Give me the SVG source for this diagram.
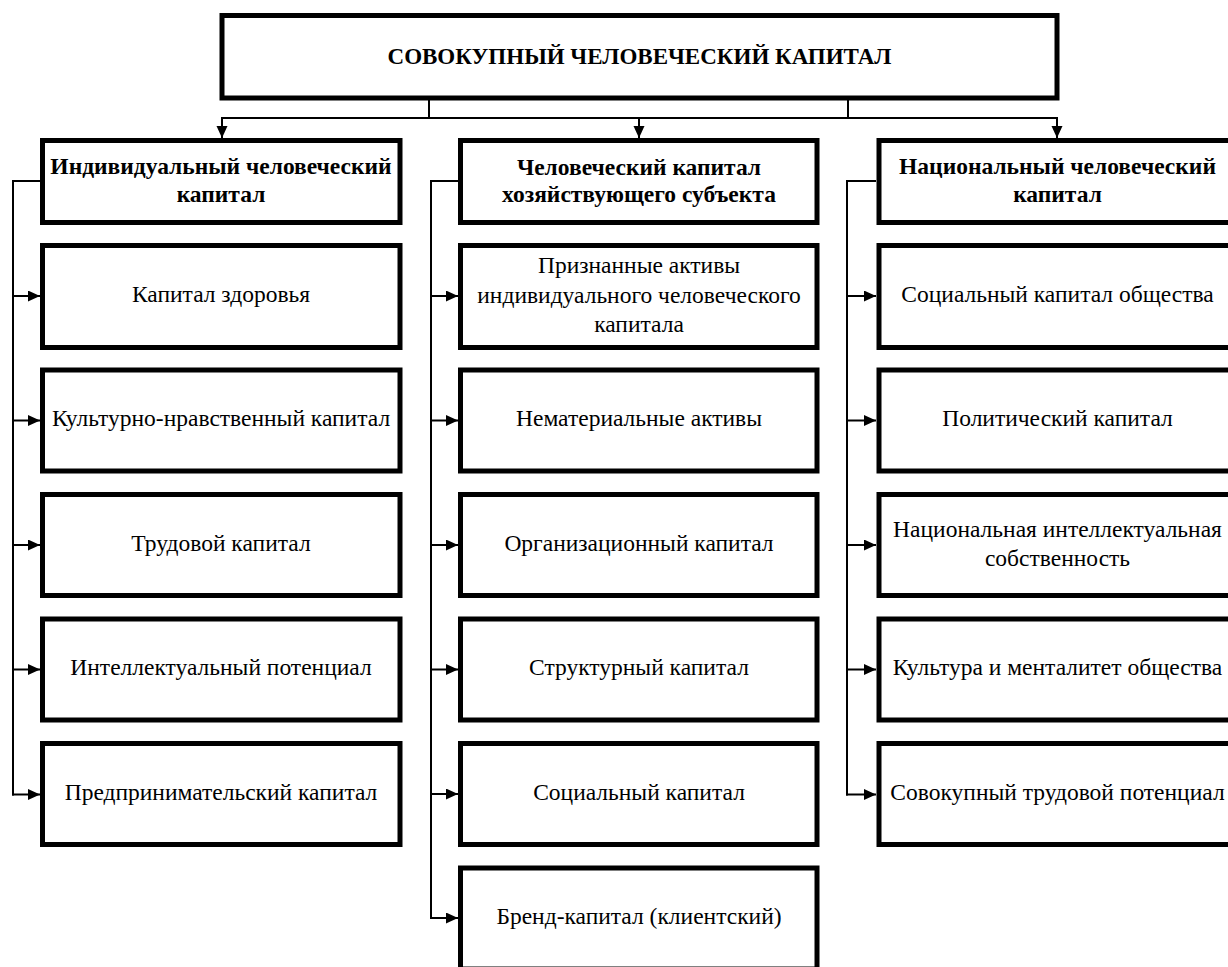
<svg xmlns="http://www.w3.org/2000/svg" width="1228" height="967" viewBox="0 0 1228 967">
<defs>
<marker id="arr" markerUnits="userSpaceOnUse" markerWidth="14" markerHeight="12" refX="12" refY="5.5" orient="auto">
<path d="M0,0 L12,5.5 L0,11 z" fill="#000"/>
</marker>
<style>
.box{fill:#fff;stroke:#000;stroke-width:5}
.ln{fill:none;stroke:#000;stroke-width:2}
.a{marker-end:url(#arr)}
.t{font-family:"Liberation Serif","Times New Roman",serif;font-size:23.5px;fill:#000;text-anchor:middle}
.b{font-weight:bold}
.ti{font-size:23px}
</style>
</defs>
<rect width="1228" height="967" fill="#fff"/>
<g id="connectors">
<path class="ln" d="M429,98 V118 M848,98 V118 M222,118 H1057"/>
<path class="ln a" d="M222,117 V138"/>
<path class="ln a" d="M639,118 V138"/>
<path class="ln a" d="M1057,117 V138"/>
<path class="ln" d="M40,181 H13 V795.5"/>
<path class="ln a" d="M13,296 H40"/>
<path class="ln a" d="M13,420.5 H40"/>
<path class="ln a" d="M13,545 H40"/>
<path class="ln a" d="M12,669.5 H40"/>
<path class="ln a" d="M12,794.5 H40"/>
<path class="ln" d="M458,181 H431 V919"/>
<path class="ln a" d="M431,296 H458"/>
<path class="ln a" d="M431,420.5 H458"/>
<path class="ln a" d="M431,545 H458"/>
<path class="ln a" d="M431,669.5 H458"/>
<path class="ln a" d="M431,794 H458"/>
<path class="ln a" d="M430,918 H458"/>
<path class="ln" d="M876,181 H847 V795.5"/>
<path class="ln a" d="M847,296 H876"/>
<path class="ln a" d="M847,420.5 H876"/>
<path class="ln a" d="M847,545 H876"/>
<path class="ln a" d="M847,669.5 H876"/>
<path class="ln a" d="M846,794.5 H876"/>
</g>
<g id="root">
<rect class="box" x="222" y="15.5" width="835" height="82.5"/>
<text class="t b ti" x="639.5" y="64">СОВОКУПНЫЙ ЧЕЛОВЕЧЕСКИЙ КАПИТАЛ</text>
</g>
<g id="h1">
<rect class="box" x="42.5" y="140.5" width="357.5" height="82"/>
<text class="t b" x="221" y="174">Индивидуальный человеческий</text>
<text class="t b" x="221" y="202">капитал</text>
</g>
<g id="h2">
<rect class="box" x="460.5" y="140.5" width="356.5" height="82"/>
<text class="t b" x="639" y="175">Человеческий капитал</text>
<text class="t b" x="639" y="202">хозяйствующего субъекта</text>
</g>
<g id="h3">
<rect class="box" x="879" y="140.5" width="357" height="82"/>
<text class="t b" x="1057.5" y="174">Национальный человеческий</text>
<text class="t b" x="1057.5" y="202">капитал</text>
</g>
<g id="l1"><rect class="box" x="42.5" y="245.5" width="357.5" height="102"/><text class="t" x="221" y="302">Капитал здоровья</text></g>
<g id="l2"><rect class="box" x="42.5" y="370" width="357.5" height="101"/><text class="t" x="221" y="426">Культурно-нравственный капитал</text></g>
<g id="l3"><rect class="box" x="42.5" y="494.5" width="357.5" height="101"/><text class="t" x="221" y="551">Трудовой капитал</text></g>
<g id="l4"><rect class="box" x="42.5" y="619" width="357.5" height="101"/><text class="t" x="221" y="675">Интеллектуальный потенциал</text></g>
<g id="l5"><rect class="box" x="42.5" y="743.5" width="357.5" height="101"/><text class="t" x="221" y="800">Предпринимательский капитал</text></g>
<g id="m1"><rect class="box" x="460.5" y="245.5" width="356.5" height="102"/>
<text class="t" x="639" y="273">Признанные активы</text>
<text class="t" x="639" y="303">индивидуального человеческого</text>
<text class="t" x="639" y="332">капитала</text></g>
<g id="m2"><rect class="box" x="460.5" y="370" width="356.5" height="101"/><text class="t" x="639" y="426">Нематериальные активы</text></g>
<g id="m3"><rect class="box" x="460.5" y="494.5" width="356.5" height="101"/><text class="t" x="639" y="551">Организационный капитал</text></g>
<g id="m4"><rect class="box" x="460.5" y="619" width="356.5" height="101"/><text class="t" x="639" y="675">Структурный капитал</text></g>
<g id="m5"><rect class="box" x="460.5" y="743.5" width="356.5" height="101"/><text class="t" x="639" y="800">Социальный капитал</text></g>
<g id="m6"><rect class="box" x="460.5" y="868" width="356.5" height="101"/><text class="t" x="639" y="924">Бренд-капитал (клиентский)</text></g>
<g id="r1"><rect class="box" x="879" y="245.5" width="357" height="102"/><text class="t" x="1057.5" y="302">Социальный капитал общества</text></g>
<g id="r2"><rect class="box" x="879" y="370" width="357" height="101"/><text class="t" x="1057.5" y="426">Политический капитал</text></g>
<g id="r3"><rect class="box" x="879" y="494.5" width="357" height="101"/>
<text class="t" x="1057.5" y="537">Национальная интеллектуальная</text>
<text class="t" x="1057.5" y="566">собственность</text></g>
<g id="r4"><rect class="box" x="879" y="619" width="357" height="101"/><text class="t" x="1057.5" y="675">Культура и менталитет общества</text></g>
<g id="r5"><rect class="box" x="879" y="743.5" width="357" height="101"/><text class="t" x="1057.5" y="800">Совокупный трудовой потенциал</text></g>
</svg>
